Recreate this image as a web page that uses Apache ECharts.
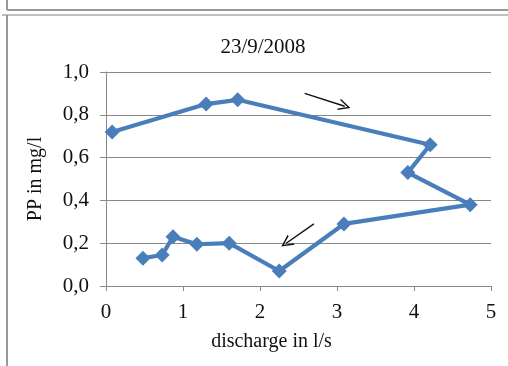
<!DOCTYPE html>
<html><head><meta charset="utf-8">
<script src="https://cdn.jsdelivr.net/npm/echarts@6/dist/echarts.min.js"></script>
<style>html,body{margin:0;padding:0;background:#fff}#c{width:508px;height:366px}</style>
</head><body><div id="c"></div>
<script>
const title = "23/9/2008";
const xName = "discharge in l/s";
const yName = "PP in mg/l";
const discharge = [0.08, 1.30, 1.71, 4.21, 3.92, 4.73, 3.09, 2.25, 1.60, 1.18, 0.87, 0.73, 0.48];
const pp        = [0.72, 0.85, 0.87, 0.66, 0.53, 0.38, 0.29, 0.07, 0.20, 0.195, 0.23, 0.145, 0.13];
const arrows = [
  [[2.58, 0.90], [3.10, 0.84]],
  [[2.70, 0.29], [2.34, 0.20]]
];
const font = "'Liberation Serif', 'Times New Roman', serif";
const chevron = 'path://M0,10 L5,0 L10,10 L8.6,10 L5,2.6 L1.4,10 Z';
const chart = echarts.init(document.getElementById('c'));
chart.setOption({
  animation: false,
  backgroundColor: '#fff',
  title: { text: title, left: 258, top: 32, textAlign: 'center',
    textStyle: { fontFamily: font, fontSize: 21, fontWeight: 'normal', color: '#111' } },
  grid: { left: 106, right: 17, top: 72, bottom: 80 },
  xAxis: {
    type: 'value', min: 0, max: 5, interval: 1,
    name: xName, nameLocation: 'middle', nameGap: 46,
    nameTextStyle: { fontFamily: font, fontSize: 20, color: '#111', padding: [0, 54, 0, 0] },
    axisLine: { show: true, lineStyle: { color: '#888', width: 1 } },
    axisTick: { show: true, inside: false, length: 5, lineStyle: { color: '#888' } },
    axisLabel: { fontFamily: font, fontSize: 21, color: '#111', margin: 16,
      formatter: v => String(v) },
    splitLine: { show: false }
  },
  yAxis: {
    type: 'value', min: 0, max: 1, interval: 0.2,
    name: yName, nameLocation: 'middle', nameGap: 60, nameRotate: 90,
    nameTextStyle: { fontFamily: font, fontSize: 20, color: '#111' },
    axisLine: { show: true, lineStyle: { color: '#888', width: 1 } },
    axisTick: { show: true, length: 6, lineStyle: { color: '#888' } },
    axisLabel: { fontFamily: font, fontSize: 21, color: '#111', margin: 17,
      formatter: v => v.toFixed(1).replace('.', ',') },
    splitLine: { show: true, lineStyle: { color: '#888', width: 1 } }
  },
  series: [{
    type: 'line',
    data: discharge.map((x, i) => [x, pp[i]]),
    symbol: 'diamond', symbolSize: 15,
    lineStyle: { color: '#4a7ebb', width: 4.2 },
    itemStyle: { color: '#4a7ebb' },
    markLine: {
      silent: true, animation: false,
      symbol: ['none', chevron], symbolSize: 12,
      lineStyle: { color: '#111', width: 1.4, type: 'solid' },
      label: { show: false },
      data: arrows.map(a => [{ coord: a[0] }, { coord: a[1] }])
    }
  }],
  graphic: [
    { type: 'line', shape: { x1: 7, y1: 0, x2: 7, y2: 10 }, style: { stroke: '#999', lineWidth: 2 } },
    { type: 'line', shape: { x1: 7, y1: 10, x2: 508, y2: 10 }, style: { stroke: '#999', lineWidth: 2 } },
    { type: 'line', shape: { x1: 2, y1: 15, x2: 508, y2: 15 }, style: { stroke: '#aaa', lineWidth: 1.5 } },
    { type: 'line', shape: { x1: 7, y1: 15, x2: 7, y2: 366 }, style: { stroke: '#999', lineWidth: 2 } }
  ]
});
</script></body></html>
